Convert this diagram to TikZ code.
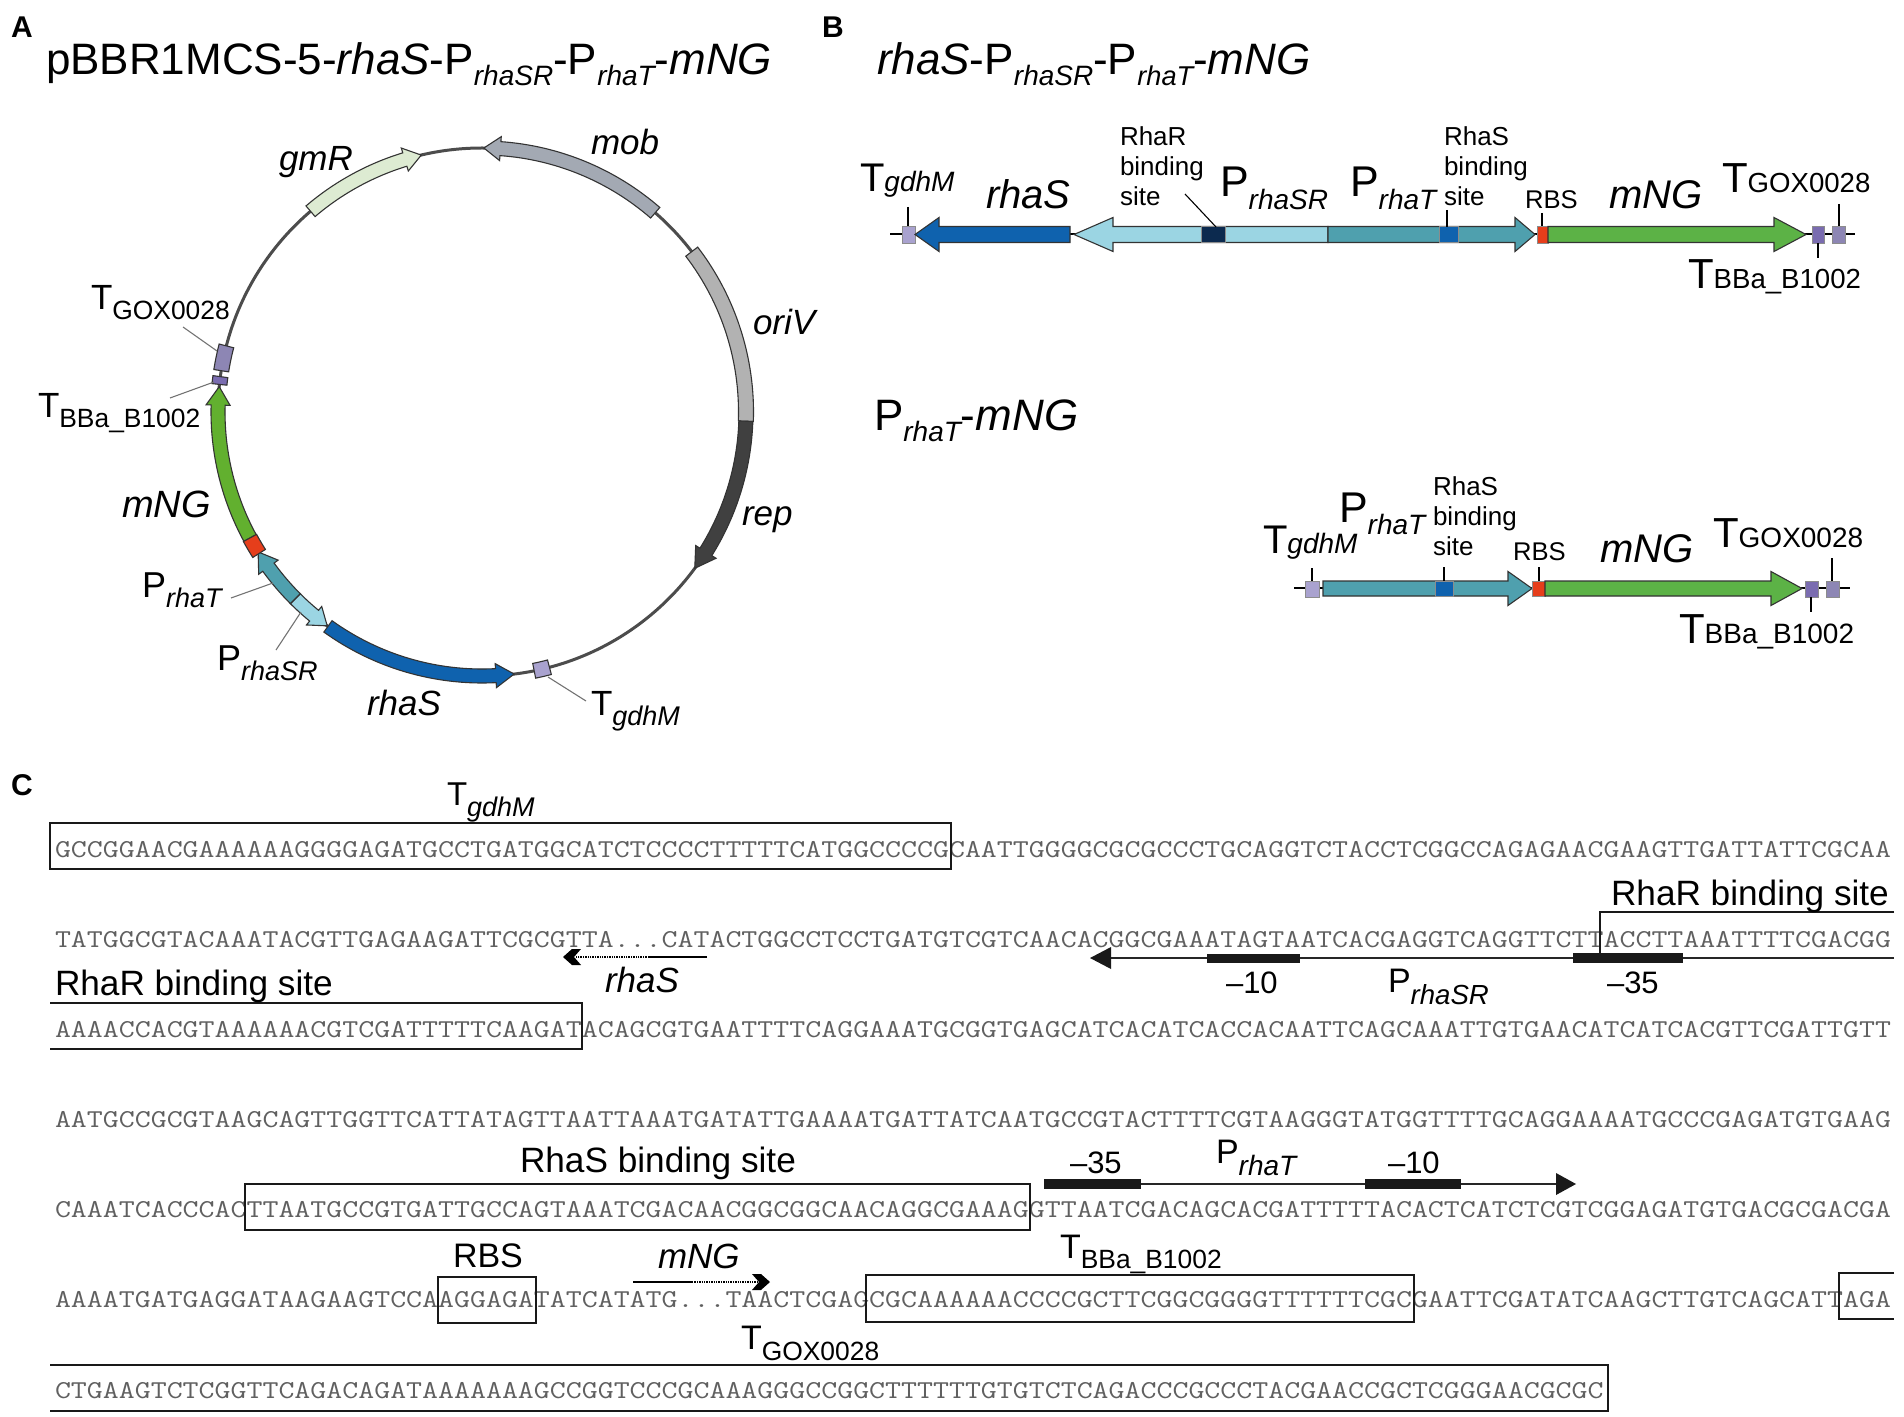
\documentclass[tikz,border=0pt]{standalone}
\usepackage{fontspec}
\setmainfont{Liberation Sans}
\definecolor{cmob}{HTML}{A3A9B3}
\definecolor{cgmr}{HTML}{DDEBD2}
\definecolor{cori}{HTML}{B2B2B2}
\definecolor{crep}{HTML}{404040}
\definecolor{crhas}{HTML}{0F62AE}
\definecolor{cpsr}{HTML}{9BD5E3}
\definecolor{cpt}{HTML}{4FA0AE}
\definecolor{cmng}{HTML}{5CB246}
\definecolor{cmngp}{HTML}{62B02F}
\definecolor{crbs}{HTML}{E63E1B}
\definecolor{cgdh}{HTML}{A9A2CF}
\definecolor{cbba}{HTML}{7A6CB0}
\definecolor{cgox}{HTML}{8D86B4}
\definecolor{cdark}{HTML}{0C2A4F}
\definecolor{cseq}{HTML}{606060}
\tikzset{
  txt/.style={anchor=base west,inner sep=0pt,outer sep=0pt},
  stack/.style={anchor=north west,inner sep=0pt,outer sep=0pt,align=left,font=\fontsize{13pt}{15pt}\selectfont},
  leaderline/.style={draw=black,line width=.55pt},
  greyleader/.style={draw=black!55,line width=.55pt},
  seqbox/.style={draw=black!90,line width=.85pt},
  partedge/.style={draw=black!80,line width=.55pt},
  promline/.style={draw=black!85,line width=.9pt},
  bar/.style={fill=black!90,draw=none},
  dotline/.style={draw=black,line width=1.2pt,dash pattern=on .7pt off .5pt},
}
% main size, sub size, drop in pt, main text, subscript
\newcommand{\Tsub}[5]{{\fontsize{#1pt}{#1pt}\selectfont #4\raisebox{-#3pt}{\fontsize{#2pt}{#2pt}\selectfont #5}}}
\newcommand{\fsz}[1]{\fontsize{#1pt}{#1pt}\selectfont}
\newcommand{\lbl}[4]{\node[txt] (#1) at (#2,#3) {#4};}
\newcommand{\lead}[6][leaderline]{\coordinate (#2a) at (#3,#4); \coordinate (#2b) at (#5,#6); \draw[#1] (#2a) -- (#2b);}
\newcommand{\seqt}[3]{\node[txt] (#1) at (55,#2) {\scalebox{1}[.83]{\fontsize{15.5pt}{15.5pt}\ttfamily\color{cseq}#3}};}
% plasmid: color, tail angle, head base angle, tip angle
\newcommand{\arcarrow}[4]{\filldraw[fill=#1,partedge] (#2:271) arc[start angle=#2,end angle=#3,radius=271] -- (#3:276) -- (#4:264) -- (#3:252) -- (#3:257) arc[start angle=#3,end angle=#2,radius=257] -- cycle;}
\newcommand{\arcblock}[3]{\filldraw[fill=#1,partedge] (#2:271.5) arc[start angle=#2,end angle=#3,radius=271.5] -- (#3:256.5) arc[start angle=#3,end angle=#2,radius=256.5] -- cycle;}
% linear: color, tail x, head base x, tip x, center y, half band, half head
\newcommand{\larrow}[7]{\filldraw[fill=#1,partedge] (#2,#5-#6) -- (#3,#5-#6) -- (#3,#5-#7) -- (#4,#5) -- (#3,#5+#7) -- (#3,#5+#6) -- (#2,#5+#6) -- cycle;}
\newcommand{\lbox}[5]{\filldraw[fill=#1,draw=black!45,line width=.4pt] (#2,#4) rectangle (#3,#5);}
\begin{document}
\begin{tikzpicture}[x=.5pt,y=-.5pt]
\useasboundingbox (0,0) rectangle (1904,1417);
% ---------- panel letters
\lbl{pa}{11}{38}{\fsz{15}\bfseries A}
\lbl{pb}{822}{38}{\fsz{15}\bfseries B}
\lbl{pc}{11}{795}{\fsz{15}\bfseries C}
% ---------- titles
\lbl{ta}{46}{75}{\fsz{22}pBBR1MCS-5-\textit{rhaS}-P\raisebox{-5.5pt}{\fsz{14}\itshape rhaSR}-P\raisebox{-5.5pt}{\fsz{14}\itshape rhaT}-\textit{mNG}}
\lbl{tb}{877}{75}{\fsz{22}\textit{rhaS}-P\raisebox{-5.5pt}{\fsz{14}\itshape rhaSR}-P\raisebox{-5.5pt}{\fsz{13.6}\itshape rhaT}-\textit{mNG}}
\lbl{tc}{874}{430}{\fsz{22}P\raisebox{-5.5pt}{\fsz{14}\itshape rhaT}-\textit{mNG}}
% ---------- plasmid
\begin{scope}[shift={(482,412)},x=.5pt,y=.5pt]
  \draw[black!70,line width=1.5pt] (0,0) circle[radius=264];
  \arcarrow{cmob}{49}{86}{89.6}
  \arcarrow{cgmr}{130.5}{107}{103.3}
  \arcblock{cori}{37.4}{-2}
  \arcarrow{crep}{-2}{-32}{-36.3}
  \arcarrow{crhas}{-125.7}{-87}{-83}
  \arcarrow{cpsr}{-135}{-129.5}{-125.9}
  \arcarrow{cpt}{-135}{-144}{-148}
  \arcarrow{cmngp}{208.5}{178.5}{174.5}
  \arcblock{crbs}{-147.6}{-151.5}
  \arcblock{cgdh}{-75.2}{-78.6}
  \arcblock{cbba}{172.3}{174}
  \arcblock{cgox}{165.5}{171}
\end{scope}
\lead[greyleader]{l1}{183}{327}{217}{351}
\lead[greyleader]{l2}{170}{398}{214}{382}
\lead[greyleader]{l3}{231}{598}{273}{583}
\lead[greyleader]{l4}{276}{650}{301}{612}
\lead[greyleader]{l5}{586}{701}{548}{677}
\lbl{pgmr}{279}{171}{\fsz{17.5}\itshape gmR}
\lbl{pmob}{591}{155}{\fsz{17.5}\itshape mob}
\lbl{pori}{753}{335}{\fsz{17.5}\itshape oriV}
\lbl{prep}{742}{525}{\fsz{17.5}\itshape rep}
\lbl{pgox}{91}{310}{\Tsub{17.5}{13.2}{5}{T}{GOX0028}}
\lbl{pbba}{38}{417}{\Tsub{17.5}{13.2}{5}{T}{BBa\_B1002}}
\lbl{pmng}{122}{517}{\fsz{19}\itshape mNG}
\lbl{prt}{142}{597}{\Tsub{18}{13.5}{5}{P}{\itshape rhaT}}
\lbl{prs}{217}{670}{\Tsub{18}{13.5}{5}{P}{\itshape rhaSR}}
\lbl{prh}{367}{715}{\fsz{17.5}\itshape rhaS}
\lbl{pgd}{591}{715}{\Tsub{17.5}{13.5}{5}{T}{\itshape gdhM}}
% ---------- linear map 1
\coordinate (m1a) at (890,234); \coordinate (m1b) at (1855,234);
\draw[black,line width=.7pt] (m1a) -- (m1b);
\lbox{cgdh}{902}{915}{226}{243}
\larrow{crhas}{1070}{939}{915}{234.5}{8}{17}
\larrow{cpsr}{1328}{1113}{1074}{234.5}{8}{17}
\lbox{cdark}{1201}{1225}{226.5}{242.5}
\larrow{cpt}{1328}{1515}{1535}{234.5}{8}{17}
\lbox{crhas}{1439}{1458}{226.5}{242.5}
\lbox{crbs}{1537}{1548}{226}{243}
\larrow{cmng}{1548}{1774}{1806}{234.5}{8}{17}
\lbox{cbba}{1812}{1824}{226}{243}
\lbox{cgox}{1832}{1845}{226}{243}
\lead{n1}{908}{207}{908}{226}
\lead{n2}{1185}{194}{1216}{227}
\lead{n3}{1447}{210}{1447}{227}
\lead{n4}{1542}{213}{1542}{226}
\lead{n5}{1818}{243}{1818}{258}
\lead{n6}{1839}{204}{1839}{226}
\lbl{b1}{860}{192}{\Tsub{20}{14}{0}{T}{\itshape gdhM}}
\lbl{b2}{986}{209}{\fsz{20}\itshape rhaS}
\node[stack] (b3) at (1120,127) {RhaR\\binding\\site};
\lbl{b4}{1220}{197}{\Tsub{21.5}{14}{6.5}{P}{\itshape rhaSR}}
\lbl{b5}{1350}{197}{\Tsub{21.5}{14}{6.5}{P}{\itshape rhaT}}
\node[stack] (b6) at (1444,127) {RhaS\\binding\\site};
\lbl{b7}{1525}{209}{\fsz{12.8}RBS}
\lbl{b8}{1609}{209}{\fsz{20}\itshape mNG}
\lbl{b9}{1722}{193}{\Tsub{21}{13.8}{0}{T}{GOX0028}}
\lbl{b10}{1688}{289}{\Tsub{21}{13.8}{0}{T}{BBa\_B1002}}
% ---------- linear map 2
\coordinate (m2a) at (1294,588); \coordinate (m2b) at (1850,588);
\draw[black,line width=.7pt] (m2a) -- (m2b);
\lbox{cgdh}{1305}{1319}{581}{597}
\larrow{cpt}{1323}{1508}{1532}{588.5}{7.5}{17}
\lbox{crhas}{1435}{1453}{581}{596}
\lbox{crbs}{1532}{1545}{581}{596}
\larrow{cmng}{1545}{1771}{1802}{588.5}{7.5}{17}
\lbox{cbba}{1805}{1818}{581}{597}
\lbox{cgox}{1826}{1839}{581}{597}
\lead{k1}{1312}{568}{1312}{581}
\lead{k2}{1444}{567}{1444}{581}
\lead{k3}{1539}{567}{1539}{581}
\lead{k4}{1811}{597}{1811}{612}
\lead{k5}{1832}{558}{1832}{581}
\lbl{c1}{1263}{553}{\Tsub{20}{14}{0}{T}{\itshape gdhM}}
\lbl{c2}{1339}{522}{\Tsub{21.5}{14}{6}{P}{\itshape rhaT}}
\node[stack] (c3) at (1433,477) {RhaS\\binding\\site};
\lbl{c4}{1513}{560}{\fsz{12.8}RBS}
\lbl{c5}{1600}{562}{\fsz{20}\itshape mNG}
\lbl{c6}{1713}{547}{\Tsub{21}{14}{0}{T}{GOX0028}}
\lbl{c7}{1679}{643}{\Tsub{21}{14}{0}{T}{BBa\_B1002}}
% ---------- sequences
\seqt{r1}{857}{GCCGGAACGAAAAAAGGGGAGATGCCTGATGGCATCTCCCCTTTTTCATGGCCCCGCAATTGGGGCGCGCCCTGCAGGTCTACCTCGGCCAGAGAACGAAGTTGATTATTCGCAA}
\seqt{r2}{947}{TATGGCGTACAAATACGTTGAGAAGATTCGCGTTA...CATACTGGCCTCCTGATGTCGTCAACACGGCGAAATAGTAATCACGAGGTCAGGTTCTTACCTTAAATTTTCGACGG}
\seqt{r3}{1037}{AAAACCACGTAAAAAACGTCGATTTTTCAAGATACAGCGTGAATTTTCAGGAAATGCGGTGAGCATCACATCACCACAATTCAGCAAATTGTGAACATCATCACGTTCGATTGTT}
\seqt{r4}{1127}{AATGCCGCGTAAGCAGTTGGTTCATTATAGTTAATTAAATGATATTGAAAATGATTATCAATGCCGTACTTTTCGTAAGGGTATGGTTTTGCAGGAAAATGCCCGAGATGTGAAG}
\seqt{r5}{1217}{CAAATCACCCACTTAATGCCGTGATTGCCAGTAAATCGACAACGGCGGCAACAGGCGAAAGGTTAATCGACAGCACGATTTTTACACTCATCTCGTCGGAGATGTGACGCGACGA}
\seqt{r6}{1307}{AAAATGATGAGGATAAGAAGTCCAAGGAGATATCATATG...TAACTCGAGCGCAAAAAACCCCGCTTCGGCGGGGTTTTTTCGCGAATTCGATATCAAGCTTGTCAGCATTAGA}
\seqt{r7}{1398}{CTGAAGTCTCGGTTCAGACAGATAAAAAAAGCCGGTCCCGCAAAGGGCCGGCTTTTTTGTGTCTCAGACCCGCCCTACGAACCGCTCGGGAACGCGC}
% ---------- boxes
\draw[seqbox] (50,823) rectangle (951,869);
\draw[seqbox] (50,1003) -- (582,1003) -- (582,1049) -- (50,1049);
\draw[seqbox] (245,1184) rectangle (1030,1230);
\draw[seqbox] (438,1277) rectangle (536,1323);
\draw[seqbox] (866,1275) rectangle (1414,1322);
\draw[seqbox] (1894,1273) -- (1839,1273) -- (1839,1319) -- (1894,1319);
\draw[seqbox] (50,1365) -- (1608,1365) -- (1608,1411) -- (50,1411);
\draw[seqbox] (1894,912) -- (1600,912) -- (1600,958);
% ---------- promoter lines
\coordinate (sr1) at (1894,958); \coordinate (sr2) at (1100,958);
\draw[promline] (sr1) -- (sr2);
\fill[black!90] (1090,958) -- (1111,947) -- (1111,969) -- cycle;
\fill[bar] (1207,954) rectangle (1300,963);
\fill[bar] (1573,953) rectangle (1683,963);
\coordinate (rt1) at (1044,1184); \coordinate (rt2) at (1560,1184);
\draw[promline] (rt1) -- (rt2);
\fill[black!90] (1576,1184) -- (1556,1173) -- (1556,1195) -- cycle;
\fill[bar] (1044,1179) rectangle (1141,1189);
\fill[bar] (1365,1179) rectangle (1461,1189);
% rhaS and mNG arrows
\coordinate (ra) at (707,957); \coordinate (rb) at (649,957); \coordinate (rc) at (575,957);
\draw[black,line width=1pt] (ra) -- (rb);
\draw[dotline] (rb) -- (rc);
\fill[black] (563,957) -- (572,949) -- (581,949) -- (574,957) -- (581,965) -- (572,965) -- cycle;
\coordinate (ma) at (633,1282); \coordinate (mb) at (692,1282); \coordinate (mc) at (758,1282);
\draw[black,line width=1pt] (ma) -- (mb);
\draw[dotline] (mb) -- (mc);
\fill[black] (770,1282) -- (761,1274) -- (752,1274) -- (759,1282) -- (752,1290) -- (761,1290) -- cycle;
% ---------- labels of panel C
\lbl{s1}{447}{805}{\Tsub{16.5}{13.5}{5.5}{T}{\itshape gdhM}}
\lbl{s2}{605}{992}{\fsz{17.5}\itshape rhaS}
\lbl{s3}{55}{995}{\fsz{17.6}RhaR binding site}
\lbl{s4}{1611}{905}{\fsz{17.6}RhaR binding site}
\lbl{s5}{1226}{993}{\fsz{15.5}–10}
\lbl{s6}{1607}{993}{\fsz{15.5}–35}
\lbl{s7}{1388}{992}{\Tsub{17}{13.8}{6}{P}{\itshape rhaSR}}
\lbl{s8}{520}{1172}{\fsz{17.6}RhaS binding site}
\lbl{s9}{1070}{1173}{\fsz{15.5}–35}
\lbl{s10}{1388}{1173}{\fsz{15.5}–10}
\lbl{s11}{1216}{1163}{\Tsub{17}{14}{6}{P}{\itshape rhaT}}
\lbl{s12}{453}{1267}{\fsz{17}RBS}
\lbl{s13}{658}{1268}{\fsz{17.5}\itshape mNG}
\lbl{s14}{1060}{1258}{\Tsub{17}{13.2}{5}{T}{BBa\_B1002}}
\lbl{s15}{741}{1349}{\Tsub{17}{13.2}{5.5}{T}{GOX0028}}
\end{tikzpicture}
\end{document}
